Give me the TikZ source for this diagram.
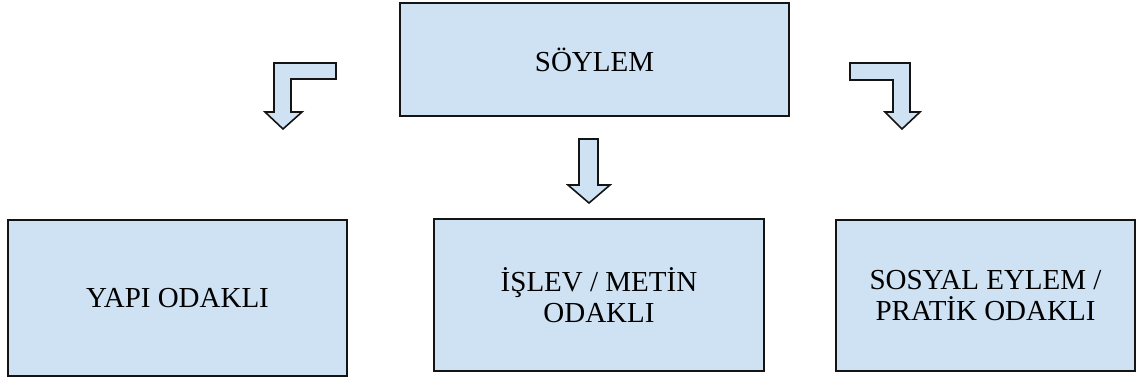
\documentclass[tikz,border=0pt]{standalone}
\usepackage{fontspec}
\setmainfont{Liberation Serif}
\definecolor{boxfill}{RGB}{207,226,243}
\definecolor{boxline}{RGB}{20,20,20}
\begin{document}
\begin{tikzpicture}[x=1pt,y=-1pt,
  textbox/.style={draw=boxline,fill=boxfill,line width=2pt,inner sep=0pt,
    font=\fontsize{29}{31}\selectfont,align=center},
  blockarrow/.style={draw=boxline,fill=boxfill,line width=1.6pt,line join=miter}]
\useasboundingbox (0,0) rectangle (1137,379);
\node[textbox,minimum width=389pt,minimum height=113pt] (soylem) at (594.5,59.5) {SÖYLEM};
\node[textbox,minimum width=339pt,minimum height=156pt] (yapi) at (177.5,298) {YAPI ODAKLI};
\node[textbox,minimum width=330pt,minimum height=152pt] (islev) at (599,295) {İŞLEV / METİN\\ODAKLI};
\node[textbox,minimum width=299pt,minimum height=151pt] (sosyal) at (985.5,295.5) {SOSYAL EYLEM /\\PRATİK ODAKLI};
% left bent arrow
\draw[blockarrow] (336,63) -- (274,63) -- (274,112) -- (265,112) -- (283,129) -- (302,112) -- (291,112) -- (291,79) -- (336,79) -- cycle;
% right bent arrow
\draw[blockarrow] (850,63) -- (910,63) -- (910,112) -- (920,112) -- (902,129) -- (885,112) -- (893,112) -- (893,80) -- (850,80) -- cycle;
% middle arrow
\draw[blockarrow] (579,139) -- (598,139) -- (598,185) -- (610,185) -- (589,203) -- (568,185) -- (579,185) -- cycle;
\end{tikzpicture}
\end{document}
